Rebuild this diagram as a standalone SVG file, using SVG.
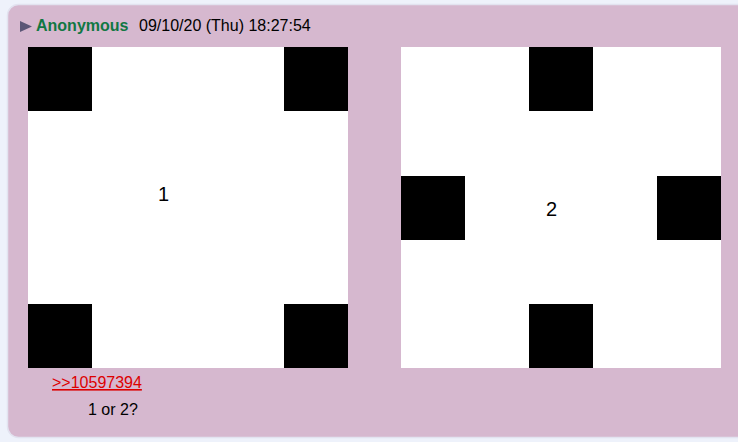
<svg xmlns="http://www.w3.org/2000/svg" width="738" height="442" viewBox="0 0 738 442">
<style>
.t{font-family:"Liberation Sans",Arial,sans-serif;font-size:16px}
.img{fill:#ffffff}
.sq{fill:#000000}
.big{font-family:"Liberation Sans",Arial,sans-serif;font-size:20px;fill:#000}
</style>
<rect x="0" y="0" width="738" height="442" fill="#eef2fb"/>
<rect x="7.5" y="4.5" width="760" height="433" rx="11" fill="#d6b8cf" stroke="#e2e3f0" stroke-width="1.5"/>
<g id="header">
<polygon points="20,21 32,26.5 20,32" fill="#5b5676"/>
<text class="t" x="36" y="31" font-weight="bold" fill="#117743">Anonymous</text>
<text class="t" x="139" y="31" fill="#000">09/10/20 (Thu) 18:27:54</text>
</g>
<g id="image1">
<rect class="img" x="28" y="47" width="320" height="321"/>
<rect class="sq" x="28" y="47" width="64" height="64"/>
<rect class="sq" x="284" y="47" width="64" height="64"/>
<rect class="sq" x="28" y="304" width="64" height="64"/>
<rect class="sq" x="284" y="304" width="64" height="64"/>
<text class="big" x="158" y="201">1</text>
</g>
<g id="image2">
<rect class="img" x="401" y="47" width="320" height="321"/>
<rect class="sq" x="529" y="47" width="64" height="64"/>
<rect class="sq" x="401" y="176" width="64" height="64"/>
<rect class="sq" x="657" y="176" width="64" height="64"/>
<rect class="sq" x="529" y="304" width="64" height="64"/>
<text class="big" x="546" y="216">2</text>
</g>
<g id="message">
<text class="t" x="52" y="388" fill="#dd0000" text-decoration="underline">&gt;&gt;10597394</text>
<text class="t" x="88" y="415" fill="#000">1 or 2?</text>
</g>
</svg>
